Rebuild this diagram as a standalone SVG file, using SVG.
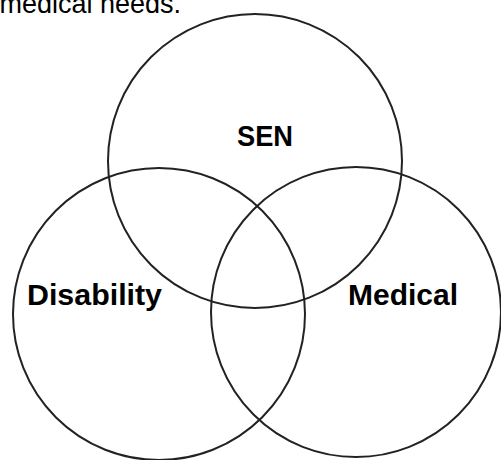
<svg xmlns="http://www.w3.org/2000/svg" width="501" height="460" viewBox="0 0 501 460">
<style>
.c{fill:none;stroke:#222;stroke-width:2}
.l{font-family:"Liberation Sans",Arial,sans-serif;font-weight:bold;font-size:30px;fill:#000}
.t{font-family:"Liberation Sans",Arial,sans-serif;font-size:27px;fill:#000}
</style>
<rect width="501" height="460" fill="#fff"/>
<text class="t" x="181" y="13" text-anchor="end">medical needs.</text>
<g id="sen">
<circle class="c" cx="255" cy="161" r="147"/>
<text class="l" x="237" y="146" textLength="56" lengthAdjust="spacingAndGlyphs">SEN</text>
</g>
<g id="disability">
<circle class="c" cx="159" cy="314" r="146"/>
<text class="l" x="27" y="305" textLength="135" lengthAdjust="spacingAndGlyphs">Disability</text>
</g>
<g id="medical">
<circle class="c" cx="356" cy="312" r="145"/>
<text class="l" x="348" y="305" textLength="110" lengthAdjust="spacingAndGlyphs">Medical</text>
</g>
<g id="connectors"></g>
</svg>
